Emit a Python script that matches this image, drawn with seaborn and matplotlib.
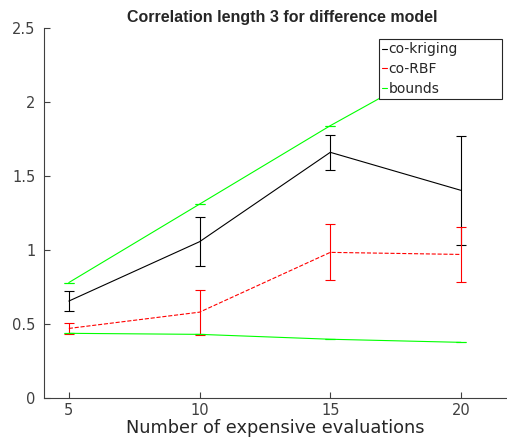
import matplotlib
matplotlib.use("Agg")
import matplotlib.pyplot as plt
import seaborn as sns
import pandas as pd
import numpy as np
from matplotlib.lines import Line2D

x_vals = [5, 10, 15, 20]
kriging_mean = [0.655, 1.056, 1.66, 1.403]
kriging_err = [0.07, 0.165, 0.12, 0.37]
rbf_mean = [0.47, 0.58, 0.984, 0.97]
rbf_err = [0.04, 0.153, 0.19, 0.185]
upper_bound = [0.78, 1.31, 1.84, 2.33]
lower_bound = [0.437, 0.43, 0.397, 0.376]

sns.set_style("ticks")
plt.rcParams['font.family'] = ['DejaVu Sans']

fig = plt.figure(figsize=(5.07, 4.48), dpi=100)
ax = fig.add_axes([44/507, 50/448, (507-44)/507, 370/448])

df = pd.DataFrame({"x": x_vals, "krig": kriging_mean, "rbf": rbf_mean,
                   "ub": upper_bound, "lb": lower_bound})

lw = 0.8
cap = 3.5
sns.lineplot(data=df, x="x", y="krig", ax=ax, color="black", lw=lw)
ax.errorbar(x_vals, kriging_mean, yerr=kriging_err, fmt="none", ecolor="black",
            elinewidth=lw, capsize=cap, capthick=lw)
sns.lineplot(data=df, x="x", y="rbf", ax=ax, color="red", lw=lw, linestyle="--")
ax.errorbar(x_vals, rbf_mean, yerr=rbf_err, fmt="none", ecolor="red",
            elinewidth=lw, capsize=cap, capthick=lw)
sns.lineplot(data=df, x="x", y="ub", ax=ax, color="#00ff00", lw=lw)
sns.lineplot(data=df, x="x", y="lb", ax=ax, color="#00ff00", lw=lw)
ax.errorbar(x_vals, upper_bound, yerr=[0]*4, fmt="none", ecolor="#00ff00",
            elinewidth=lw, capsize=cap, capthick=lw)
ax.errorbar(x_vals, lower_bound, yerr=[0]*4, fmt="none", ecolor="#00ff00",
            elinewidth=lw, capsize=cap, capthick=lw)

ax.set_xlim(4.05, 21.76)
ax.set_ylim(0, 2.5)
ax.set_xticks([5, 10, 15, 20])
ax.set_yticks([0, 0.5, 1, 1.5, 2, 2.5])
ax.set_yticklabels(["0", "0.5", "1", "1.5", "2", "2.5"])
ax.tick_params(direction="in", length=4, labelsize=10.5, colors="#404040", width=0.8)
ax.tick_params(axis="y", pad=6)
for s in ["top", "right"]:
    ax.spines[s].set_visible(False)
for s in ["left", "bottom"]:
    ax.spines[s].set_color("#404040")
    ax.spines[s].set_linewidth(0.8)

ax.set_xlabel("Number of expensive evaluations", fontsize=12.8, color="#262626", labelpad=1)
ax.set_ylabel("")
ax.set_title("Correlation length 3 for difference model", fontsize=11.5,
             fontweight="bold", pad=4, x=(282 - 44) / 463,
             family=["Liberation Sans", "DejaVu Sans"])

handles = [Line2D([], [], color="black", lw=lw),
           Line2D([], [], color="red", lw=lw),
           Line2D([], [], color="#00ff00", lw=lw)]
x0 = (379 - 44) / 463
w = (502 - 379) / 463
top = (398 - 39) / 370
leg = ax.legend(handles, ["co-kriging", "co-RBF", "bounds"], loc="upper left",
                bbox_to_anchor=(x0, top - 0.2, w, 0.2), mode="expand",
                borderaxespad=0, fontsize=10, handlelength=0.3,
                handletextpad=0.15, borderpad=0.25, labelspacing=0.4,
                fancybox=False, framealpha=1, edgecolor="#262626")
leg.get_frame().set_linewidth(0.8)

fig.savefig("out.png", dpi=100)
